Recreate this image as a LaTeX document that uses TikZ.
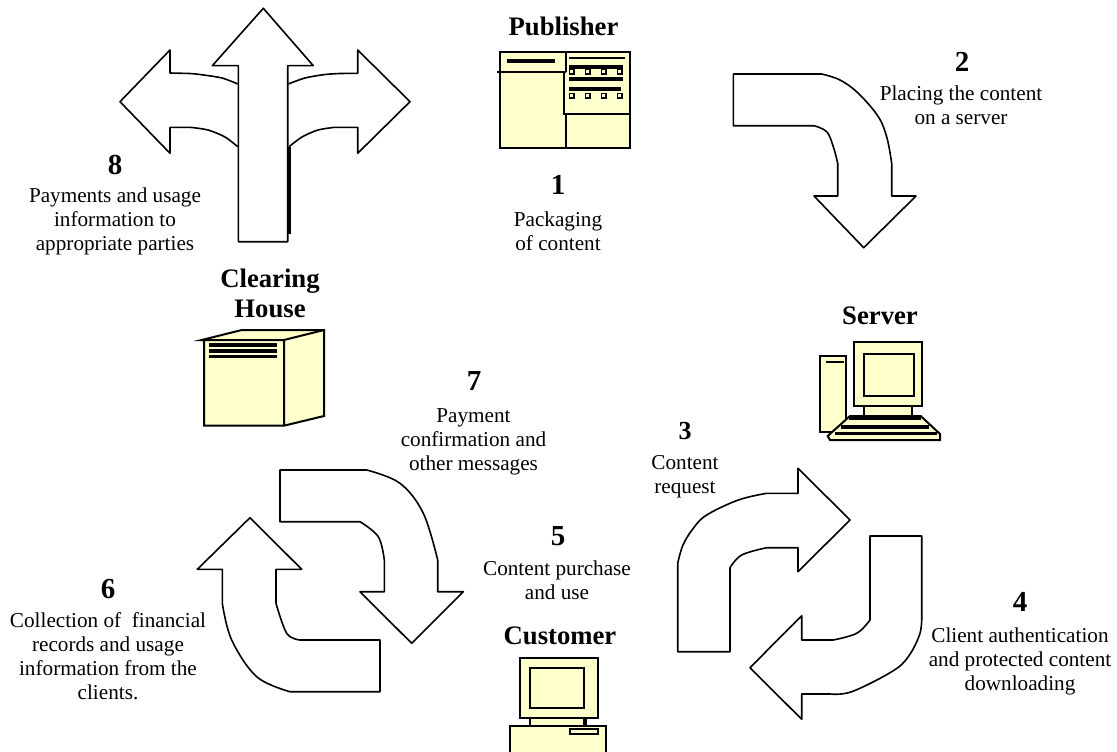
\documentclass[tikz,border=0pt]{standalone}
\usepackage{fontspec}
\setmainfont{Liberation Serif}
\definecolor{cream}{HTML}{FFFFCC}
\tikzset{
  lbl/.style={inner sep=0pt,outer sep=0pt,align=center,font=\fontsize{21.2}{24}\selectfont},
  hdr/.style={inner sep=0pt,outer sep=0pt,align=center,font=\fontsize{26.7}{30}\selectfont\bfseries},
  num/.style={inner sep=0pt,outer sep=0pt,font=\fontsize{29}{30}\selectfont\bfseries},
  bigarrow/.style={draw=black,fill=white,line width=1.6pt,line join=round},
  icon/.style={draw=black,fill=cream,line width=2pt,line join=miter},
  ink/.style={draw=black,line width=2pt},
  bar/.style={draw=black,line width=4pt},
  dot/.style={draw=black,fill=cream,line width=1.6pt}
}
\begin{document}
\begin{tikzpicture}[x=1pt,y=-1pt]
\useasboundingbox (0,0) rectangle (1117,752);
% clearing arrows
\draw[bigarrow] (237.7,84) -- plot[smooth,tension=.5] coordinates {(237.7,84) (222,78) (200,74.5) (190,73.5)} -- (170,73) -- (170,50) -- (120,101.7) -- (170,153.3) -- (170,127.3) -- (190,127.3) -- plot[smooth,tension=.5] coordinates {(190,127.3) (208,130) (225,137) (237.7,146.7)};
\draw[bigarrow] (288.3,84) -- plot[smooth,tension=.5] coordinates {(288.3,84) (305,78) (325,74.5) (340,73.5)} -- (357.7,73.3) -- (357.7,50) -- (410,101.7) -- (357.7,153.3) -- (357.7,127.3) -- (335,127.3) -- plot[smooth,tension=.5] coordinates {(335,127.3) (318,130) (302,137) (289,146.7)};
\draw[bigarrow] (263.3,8.3) -- (313.3,65.7) -- (287.7,65.7) -- (287.7,241.7) -- (238.3,241.7) -- (238.3,65.7) -- (212.3,65.7) -- cycle;
\draw[line width=2.6pt] (289.3,147) -- (289.3,234);
% arrow 2
\draw[bigarrow] (733.3,74) -- (821.7,74) -- plot[smooth,tension=.6] coordinates {(821.7,74) (840,80) (858.3,93.3) (878.3,116.7) (887,138) (891.7,163.3)} -- (891.7,196) -- (916,196) -- (863.7,247.7) -- (814,196) -- (837.7,196) -- (837.7,163.3) -- plot[smooth,tension=.6] coordinates {(837.7,163.3) (833.3,146.7) (826.7,131.7) (814,125.7)} -- (733.3,125.7) -- cycle;
% arrow 3
\draw[bigarrow] (677.7,651.7) -- (677.7,563.3) -- plot[smooth,tension=.6] coordinates {(677.7,563.3) (683,545) (693.3,528.3) (706.7,515) (738.3,500) (766.7,493.3)} -- (798,493.3) -- (798,468.3) -- (850,520) -- (798,571.7) -- (798,547.7) -- (766.7,547.7) -- plot[smooth,tension=.6] coordinates {(766.7,547.7) (741.7,555) (730,567.7)} -- (730,651.7) -- cycle;
% arrow 4
\draw[bigarrow] (870,536) -- (921.7,536) -- (921.7,613.3) -- plot[smooth,tension=.6] coordinates {(921.7,613.3) (920,633.3) (908.3,656.7) (891.7,671.7) (851.7,691.7) (830,694)} -- (801.7,694) -- (801.7,719.3) -- (750,667.7) -- (801.7,615.7) -- (801.7,640) -- (833.3,640) -- plot[smooth,tension=.6] coordinates {(833.3,640) (856.7,633.3) (870,620)} -- cycle;
% arrow 7
\draw[bigarrow] (280,470) -- (366.7,470) -- plot[smooth,tension=.6] coordinates {(366.7,470) (400,483.3) (423.3,513.3) (437.7,560)} -- (437.7,591.7) -- (463.4,591.7) -- (411.7,643.3) -- (360,591.7) -- (384.3,591.7) -- (384.3,560) -- plot[smooth,tension=.6] coordinates {(384.3,560) (378.3,536.7) (360,521.7)} -- (280,521.7) -- cycle;
% arrow 6
\draw[bigarrow] (250,517.7) -- (301.7,569.3) -- (276,569.3) -- (276,603.3) -- plot[smooth,tension=.6] coordinates {(276,603.3) (286.7,633.3) (300,640)} -- (380,640) -- (380,691.7) -- (290,691.7) -- plot[smooth,tension=.6] coordinates {(290,691.7) (256.7,676.7) (231.7,640) (222.3,603.3)} -- (222.3,569.3) -- (197.3,569.3) -- cycle;
% publisher
\draw[icon] (500,52.3) rectangle (630,147.7);
\draw[ink] (497,71.7) -- (566,71.7) (566,52.3) -- (566,71.7) (564,71.7) -- (564,114) -- (629,114) (566,114) -- (566,147.7);
\draw[bar] (507.3,61) -- (555,61);
\draw[ink] (569,57.7) -- (625,57.7);
\draw[bar] (569,66.7) -- (622.7,66.7) (569,79) -- (622.7,79) (569,89) -- (620.7,89);
\foreach \qx in {571.7,587.7,603.7,619.7}{
  \draw[dot] (\qx-2.2,69.7) rectangle (\qx+2.2,74);
  \draw[dot] (\qx-2.2,93.5) rectangle (\qx+2.2,97.8);
}
% server
\draw[icon] (820,355.7) rectangle (846,431.7);
\draw[ink] (825.7,362) -- (844.3,362);
\draw[icon] (863.7,406) rectangle (912.3,418);
\draw[icon] (854,342.3) rectangle (922,406);
\draw[icon] (863.7,353.7) rectangle (914,396);
\draw[icon] (850,416) -- (920.7,416) -- (940,434) -- (940,440) -- (830,440) -- (827.7,436) -- cycle;
\draw[line width=3.2pt] (849,418) -- (921,418) (841,427) -- (929,427) (835,433.5) -- (937,433.5);
% clearing house
\draw[icon] (201.7,340) -- (241.7,330) -- (324,330) -- (324,416) -- (284,425.7) -- (204,425.7) -- (204,340) -- cycle;
\draw[ink] (284,340) -- (324,330) (284,340) -- (284,425.7) (201.7,340) -- (284,340);
\draw[line width=3.2pt] (209.3,345) -- (276.7,345) (209.3,351) -- (276.7,351) (209.3,356.7) -- (276.7,356.7);
% customer
\draw[icon] (530,718.3) rectangle (585,726);
\draw[line width=3.4pt] (585,718.3) -- (585,726);
\draw[icon] (520,657.7) rectangle (598.3,718.3);
\draw[icon] (530,667.7) rectangle (584,708.3);
\draw[icon] (510,760) -- (510,726) -- (606,726) -- (606,760);
\draw[icon] (570,729.3) rectangle (598.3,734);
% labels
\node[hdr] (publisher) at (563.5,26) {Publisher};
\node[num] (n1) at (558,185) {1};
\node[lbl] (t1) at (558,231) {Packaging\\of content};
\node[num] (n2) at (962,62) {2};
\node[lbl] (t2) at (961,105) {Placing the content\\on a server};
\node[num] (n8) at (115,165) {8};
\node[lbl] (t8) at (115,221) {Payments and usage\\information to\\appropriate parties};
\node[hdr] (clearing) at (270,293) {Clearing\\House};
\node[hdr] (server) at (880,316) {Server};
\node[num] (n7) at (474,381) {7};
\node[lbl] (t7) at (473.5,441.5) {Payment\\confirmation and\\other messages};
\node[num,font=\fontsize{26}{30}\selectfont\bfseries] (n3) at (685,431) {3};
\node[lbl] (t3) at (685,477) {Content\\request};
\node[num] (n5) at (558,536) {5};
\node[lbl] (t5) at (557,580.5) {Content purchase\\and use};
\node[hdr] (customer) at (560,636) {Customer};
\node[num] (n6) at (108,589) {6};
\node[lbl] (t6) at (108,656) {Collection of\ \ financial\\records and usage\\information from the\\clients.};
\node[num] (n4) at (1020,602) {4};
\node[lbl] (t4) at (1020,661) {Client authentication\\and protected content\\downloading};
\end{tikzpicture}
\end{document}
